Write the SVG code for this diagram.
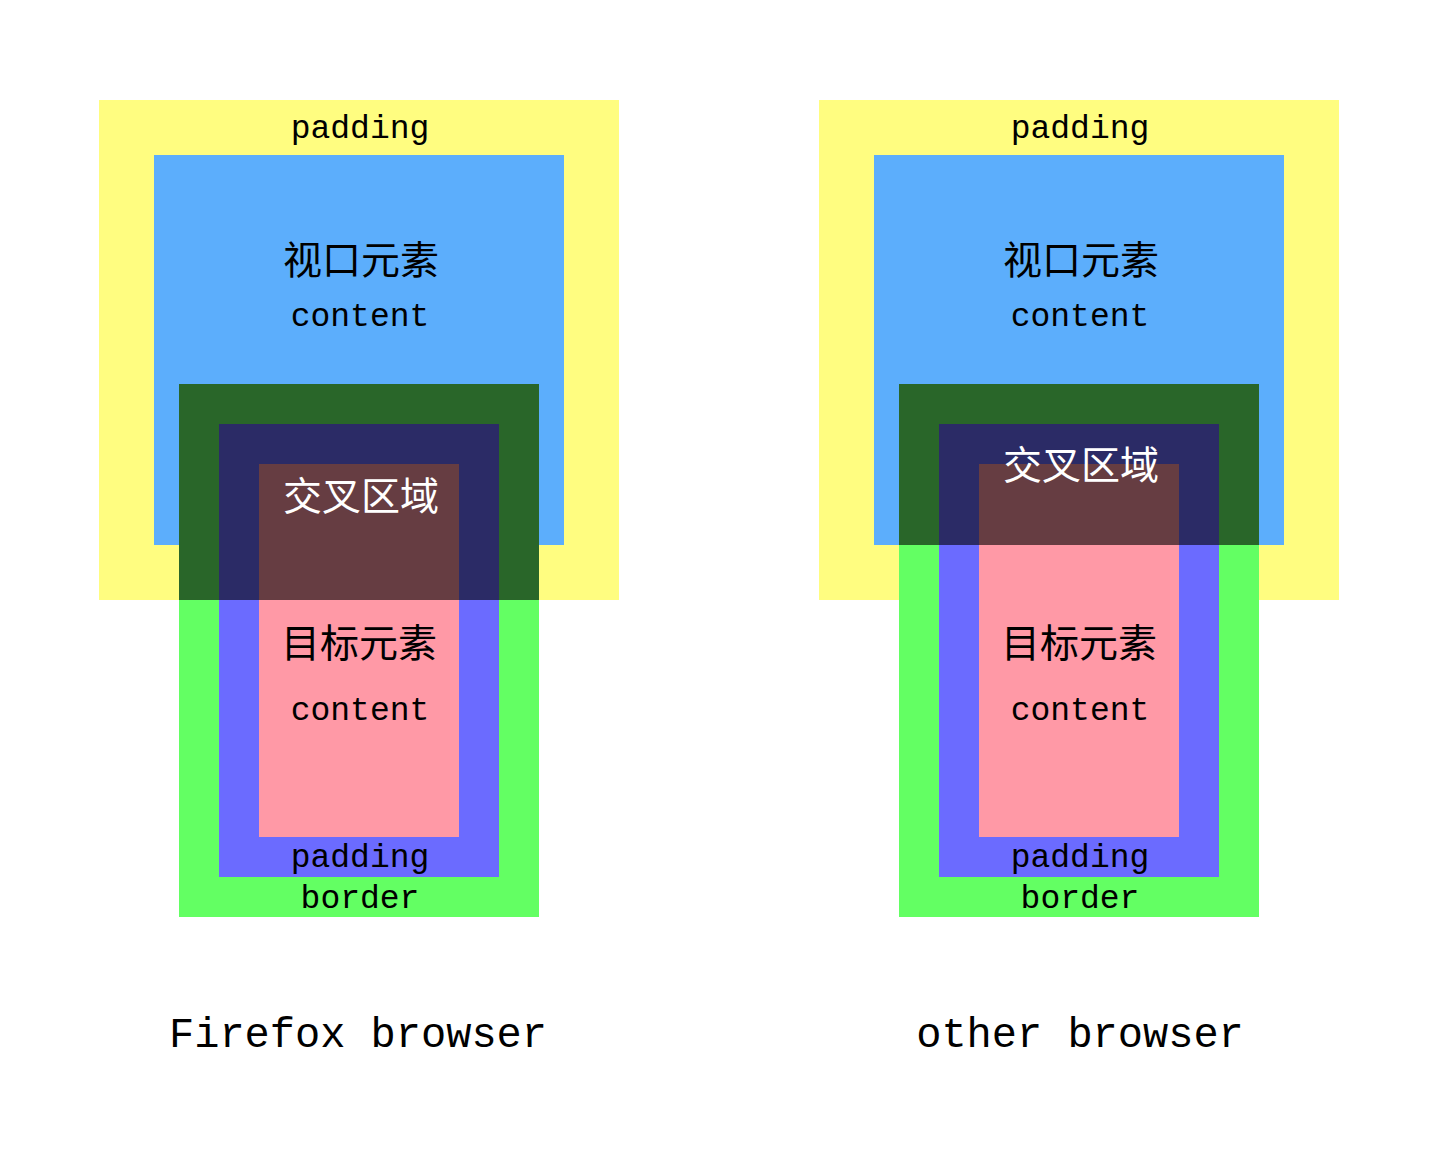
<svg xmlns="http://www.w3.org/2000/svg" width="1439" height="1151" viewBox="0 0 1439 1151">
<style>
.lat{font-family:"Liberation Mono","DejaVu Sans Mono",monospace;font-size:33px;fill:#000;text-anchor:middle}
.cjk{font-family:"Noto Sans CJK SC","Noto Sans CJK JP",sans-serif;font-size:39px;text-anchor:middle;dominant-baseline:central}
.cap{font-family:"Liberation Mono","DejaVu Sans Mono",monospace;font-size:42px;fill:#000;text-anchor:middle}
.yel{fill:#FFFD80}.blu{fill:#5CAEFC}.grn{fill:#63FF63}.per{fill:#6B6BFF}.pnk{fill:#FF99A6}
.dgrn{fill:#296629}.dper{fill:#2B2B66}.dpnk{fill:#663D42}
</style>
<rect width="1439" height="1151" fill="#fff"/>
<g id="firefox">
  <g id="ff-viewport">
    <rect class="yel" x="99" y="100" width="520" height="500"/>
    <rect class="blu" x="154" y="155" width="410" height="390"/>
    <text class="lat" x="360" y="138">padding</text>
    <text class="cjk" x="361" y="257" fill="#000">视口元素</text>
    <text class="lat" x="360" y="326">content</text>
  </g>
  <g id="ff-target">
    <rect class="grn" x="179" y="384" width="360" height="533"/>
    <rect class="per" x="219" y="424" width="280" height="453"/>
    <rect class="pnk" x="259" y="464" width="200" height="373"/>
    <rect class="dgrn" x="179" y="384" width="360" height="216"/>
    <rect class="dper" x="219" y="424" width="280" height="176"/>
    <rect class="dpnk" x="259" y="464" width="200" height="136"/>
    <text class="cjk" x="361" y="493" fill="#fff">交叉区域</text>
    <text class="cjk" x="359" y="640" fill="#000">目标元素</text>
    <text class="lat" x="360" y="720">content</text>
    <text class="lat" x="360" y="867">padding</text>
    <text class="lat" x="360" y="908">border</text>
  </g>
  <text id="ff-caption" class="cap" x="358" y="1047">Firefox browser</text>
</g>
<g id="other">
  <g id="ot-viewport">
    <rect class="yel" x="819" y="100" width="520" height="500"/>
    <rect class="blu" x="874" y="155" width="410" height="390"/>
    <text class="lat" x="1080" y="138">padding</text>
    <text class="cjk" x="1081" y="257" fill="#000">视口元素</text>
    <text class="lat" x="1080" y="326">content</text>
  </g>
  <g id="ot-target">
    <rect class="grn" x="899" y="384" width="360" height="533"/>
    <rect class="per" x="939" y="424" width="280" height="453"/>
    <rect class="pnk" x="979" y="464" width="200" height="373"/>
    <rect class="dgrn" x="899" y="384" width="360" height="161"/>
    <rect class="dper" x="939" y="424" width="280" height="121"/>
    <rect class="dpnk" x="979" y="464" width="200" height="81"/>
    <text class="cjk" x="1081" y="462" fill="#fff">交叉区域</text>
    <text class="cjk" x="1079" y="640" fill="#000">目标元素</text>
    <text class="lat" x="1080" y="720">content</text>
    <text class="lat" x="1080" y="867">padding</text>
    <text class="lat" x="1080" y="908">border</text>
  </g>
  <text id="ot-caption" class="cap" x="1080" y="1047">other browser</text>
</g>
<g id="connectors"/>
</svg>
